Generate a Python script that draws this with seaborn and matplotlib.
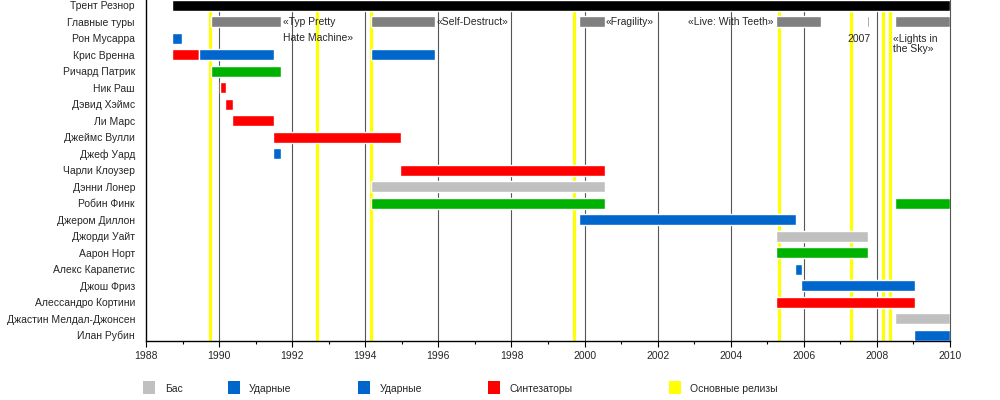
import matplotlib
matplotlib.use("Agg")
import matplotlib.pyplot as plt
from matplotlib.patches import Rectangle
import seaborn as sns
import pandas as pd

# Участники (сверху вниз)
members = ["Трент Резнор", "Главные туры", "Рон Мусарра", "Крис Вренна", "Ричард Патрик",
           "Ник Раш", "Дэвид Хэймс", "Ли Марс", "Джеймс Вулли", "Джеф Уард",
           "Чарли Клоузер", "Дэнни Лонер", "Робин Финк", "Джером Диллон", "Джорди Уайт",
           "Аарон Норт", "Алекс Карапетис", "Джош Фриз", "Алессандро Кортини",
           "Джастин Мелдал-Джонсен", "Илан Рубин"]

# Отрезки участия: участник, начало, конец, роль
seg_member = ["Трент Резнор", "Рон Мусарра", "Крис Вренна", "Крис Вренна", "Крис Вренна",
              "Ричард Патрик", "Ник Раш", "Дэвид Хэймс", "Ли Марс", "Джеймс Вулли",
              "Джеф Уард", "Чарли Клоузер", "Дэнни Лонер", "Робин Финк", "Робин Финк",
              "Джером Диллон", "Джорди Уайт", "Аарон Норт", "Алекс Карапетис", "Джош Фриз",
              "Алессандро Кортини", "Джастин Мелдал-Джонсен", "Илан Рубин"]
seg_start = [1988.71, 1988.71, 1988.71, 1989.45, 1994.16,
             1989.78, 1990.03, 1990.16, 1990.36, 1991.48,
             1991.48, 1994.96, 1994.16, 1994.16, 2008.49,
             1999.86, 2005.23, 2005.23, 2005.75, 2005.92,
             2005.23, 2008.49, 2009.01]
seg_end = [2010.0, 1988.99, 1989.45, 1991.50, 1995.92,
           1991.70, 1990.19, 1990.38, 1991.51, 1994.99,
           1991.70, 2000.55, 2000.55, 2000.55, 2010.0,
           2005.78, 2007.75, 2007.75, 2005.95, 2009.04,
           2009.04, 2010.0, 2010.0]
seg_role = ["vocals", "drums", "synth", "drums", "drums",
            "guitar", "synth", "synth", "synth", "synth",
            "drums", "synth", "bass", "guitar", "guitar",
            "drums", "bass", "guitar", "drums", "drums",
            "synth", "bass", "drums"]

# Главные туры
tour_start = [1989.78, 1994.16, 1999.86, 2005.23, 2007.72, 2008.49]
tour_end = [1991.70, 1995.92, 2000.55, 2006.47, 2007.78, 2010.0]

# Основные релизы
release_years = [1989.76, 1992.69, 1994.17, 1999.71, 2005.32, 2007.30, 2008.17, 2008.36]

legend_labels = ["Бас", "Ударные", "Ударные", "Синтезаторы", "Основные релизы"]

role_colors = {"vocals": "#000000", "drums": "#0066CC", "guitar": "#00B200",
               "bass": "#C0C0C0", "synth": "#FF0000", "tour": "#808080"}
legend_colors = ["#C0C0C0", "#0066CC", "#0066CC", "#FF0000", "#FFFF00"]

sns.set_theme(style="white")
plt.rcParams["font.family"] = ["Liberation Sans", "DejaVu Sans"]
fs = 7.5

segments = pd.DataFrame({"member": seg_member, "start": seg_start,
                         "end": seg_end, "role": seg_role})
segments["row"] = segments["member"].map({m: i for i, m in enumerate(members)})
tours = pd.DataFrame({"start": tour_start, "end": tour_end})
tours["row"] = members.index("Главные туры")

fig = plt.figure(figsize=(10, 4), dpi=100)
ax = fig.add_axes([0.146, 0.1475, 0.804, 0.8525])

# Сетка и релизы
for yr in range(1990, 2010, 2):
    ax.axvline(yr, color="#555555", lw=0.8, zorder=1)
for r in release_years:
    ax.axvline(r, color="#FFFF00", lw=2.3, zorder=2)

bh = 0.65
ax.barh(tours["row"], tours["end"] - tours["start"], left=tours["start"],
        height=bh, color=role_colors["tour"], zorder=3)
ax.barh(segments["row"], segments["end"] - segments["start"], left=segments["start"],
        height=bh, color=segments["role"].map(role_colors), zorder=3)

# Подписи туров
tk = dict(fontsize=fs, va="center", zorder=4)
ax.text(1991.74, 1, "«Тур Pretty", ha="left", **tk)
ax.text(1991.74, 2, "Hate Machine»", ha="left", **tk)
ax.text(1995.94, 1, "«Self-Destruct»", ha="left", **tk)
ax.text(2000.57, 1, "«Fragility»", ha="left", **tk)
ax.text(2005.16, 1, "«Live: With Teeth»", ha="right", **tk)
ax.text(2007.84, 2.05, "2007", ha="right", **tk)
ax.text(2008.44, 2.35, "«Lights in\nthe Sky»", ha="left", linespacing=0.9, **tk)

ax.set_xlim(1988, 2010)
ax.set_ylim(20.35, -0.32)
ax.set_yticks(range(len(members)))
ax.set_yticklabels(members, fontsize=fs)
ax.set_xticks(range(1988, 2011, 2))
ax.set_xticks(range(1989, 2010, 2), minor=True)
ax.tick_params(axis="x", which="major", length=4.5, width=0.8, color="black",
               bottom=True, labelsize=fs, pad=3)
ax.tick_params(axis="x", which="minor", length=2.5, width=0.8, color="black", bottom=True)
ax.tick_params(axis="y", length=0, pad=8)

sns.despine(ax=ax, top=True, right=False)
ax.spines["left"].set_color("black")
ax.spines["bottom"].set_color("black")
ax.spines["left"].set_linewidth(1)
ax.spines["bottom"].set_linewidth(1)
ax.spines["right"].set_color("#555555")
ax.spines["right"].set_linewidth(0.8)

# Легенда
patch_x = [143, 228, 358, 488, 669]
text_x = [165, 249, 380, 509, 690]
for px, tx, lab, col in zip(patch_x, text_x, legend_labels, legend_colors):
    fig.add_artist(Rectangle((px / 1000, 1 - 394 / 400), 12 / 1000, 13 / 400,
                             transform=fig.transFigure, color=col, lw=0))
    fig.text(tx / 1000, 1 - 389 / 400, lab, fontsize=fs, va="center", ha="left")

fig.savefig("out.png", dpi=100)
